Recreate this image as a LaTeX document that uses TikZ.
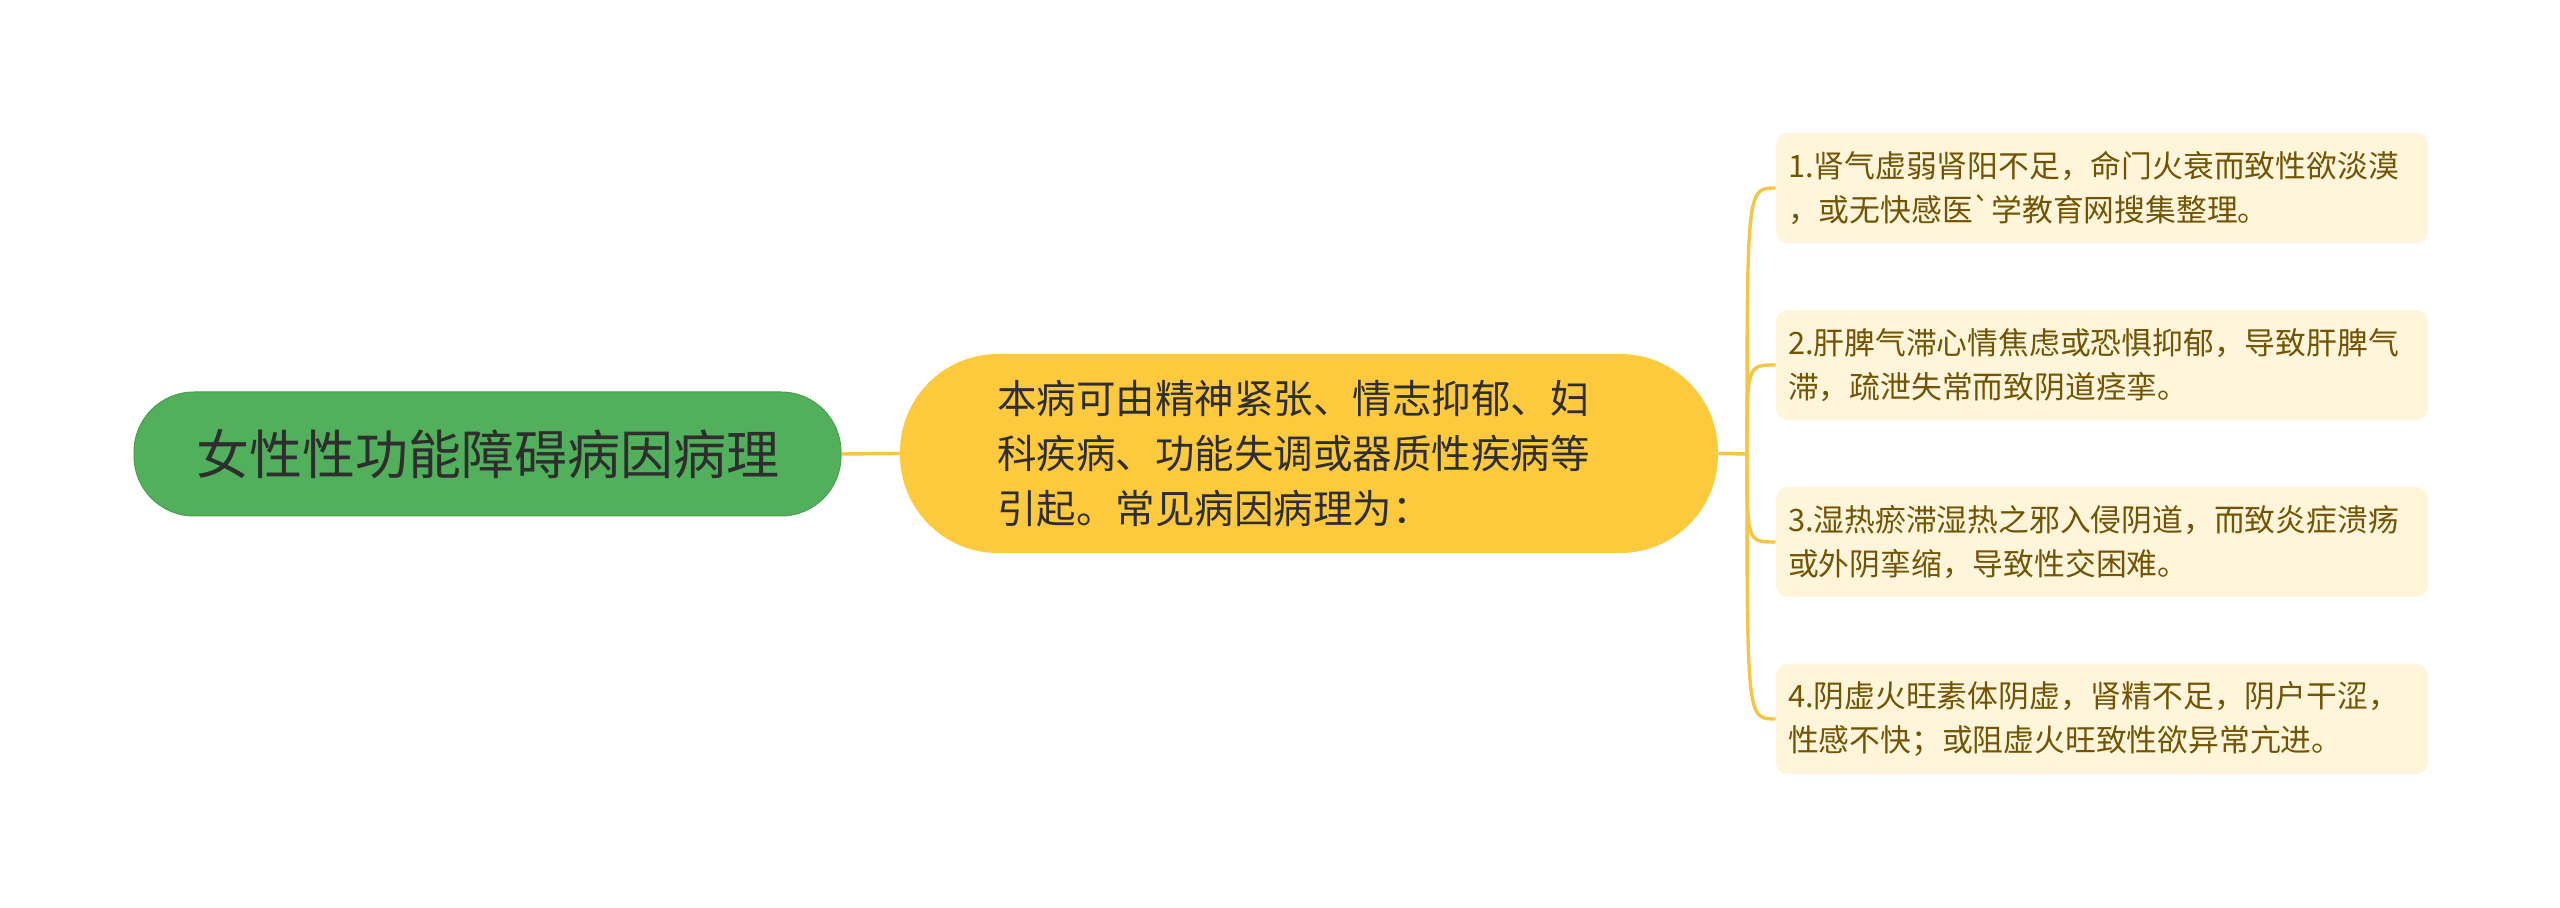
\documentclass[tikz,border=0pt]{standalone}
\usepackage{fontspec}
\newfontfamily\cjk{Noto Sans CJK SC}
\definecolor{rootgreen}{HTML}{52AF5C}
\definecolor{rootedge}{HTML}{47A04F}
\definecolor{midyellow}{HTML}{FDCA3D}
\definecolor{leafcream}{HTML}{FEF5DB}
\definecolor{leaftext}{HTML}{735404}
\definecolor{darktext}{HTML}{2E2E2E}
\definecolor{connyellow}{HTML}{F7C546}
\tikzset{
  rootbox/.style={fill=rootgreen, draw=rootedge, line width=0.5pt, rounded corners=30pt,
    minimum width=353.5pt, minimum height=62pt, inner sep=0pt, text=darktext,
    font=\cjk\fontsize{26.5}{30}\selectfont},
  midbox/.style={fill=midyellow, rounded corners=49pt, minimum width=409pt, minimum height=99.5pt,
    inner sep=0pt, text width=312pt, align=left, text=darktext,
    font=\cjk\fontsize{19.75}{27.5}\selectfont},
  leafbox/.style={fill=leafcream, rounded corners=6pt, minimum width=326pt, minimum height=55pt,
    inner sep=0pt, text width=314pt, align=left, text=leaftext,
    font=\cjk\fontsize{15.4}{22}\selectfont},
  conn/.style={draw=connyellow, line width=1.7pt}
}
\begin{document}
\begin{tikzpicture}[x=0.5pt,y=-0.5pt]
\useasboundingbox[fill=white] (0,0) rectangle (2560,908);
\node[rootbox] (root) at (487.5,454) {女性性功能障碍病因病理};
\node[midbox] (mid) at (1309,453.5) {本病可由精神紧张、情志抑郁、妇\\科疾病、功能失调或器质性疾病等\\引起。常见病因病理为：};
\node[leafbox] (l1) at (2102,188) {1.肾气虚弱肾阳不足，命门火衰而致性欲淡漠\\，或无快感医`学教育网搜集整理。};
\node[leafbox] (l2) at (2102,365) {2.肝脾气滞心情焦虑或恐惧抑郁，导致肝脾气\\滞，疏泄失常而致阴道痉挛。};
\node[leafbox] (l3) at (2102,542) {3.湿热瘀滞湿热之邪入侵阴道，而致炎症溃疡\\或外阴挛缩，导致性交困难。};
\node[leafbox] (l4) at (2102,719) {4.阴虚火旺素体阴虚，肾精不足，阴户干涩，\\性感不快；或阻虚火旺致性欲异常亢进。};
\coordinate (fork) at (1747,454);
\draw[conn] (root.east) -- (mid.west);
\draw[conn] (mid.east) -- (fork);
\foreach \n in {l1,l2,l3,l4}{
  \draw[conn] (fork) .. controls (fork |- \n.west) .. (\n.west);
}
\end{tikzpicture}
\end{document}
